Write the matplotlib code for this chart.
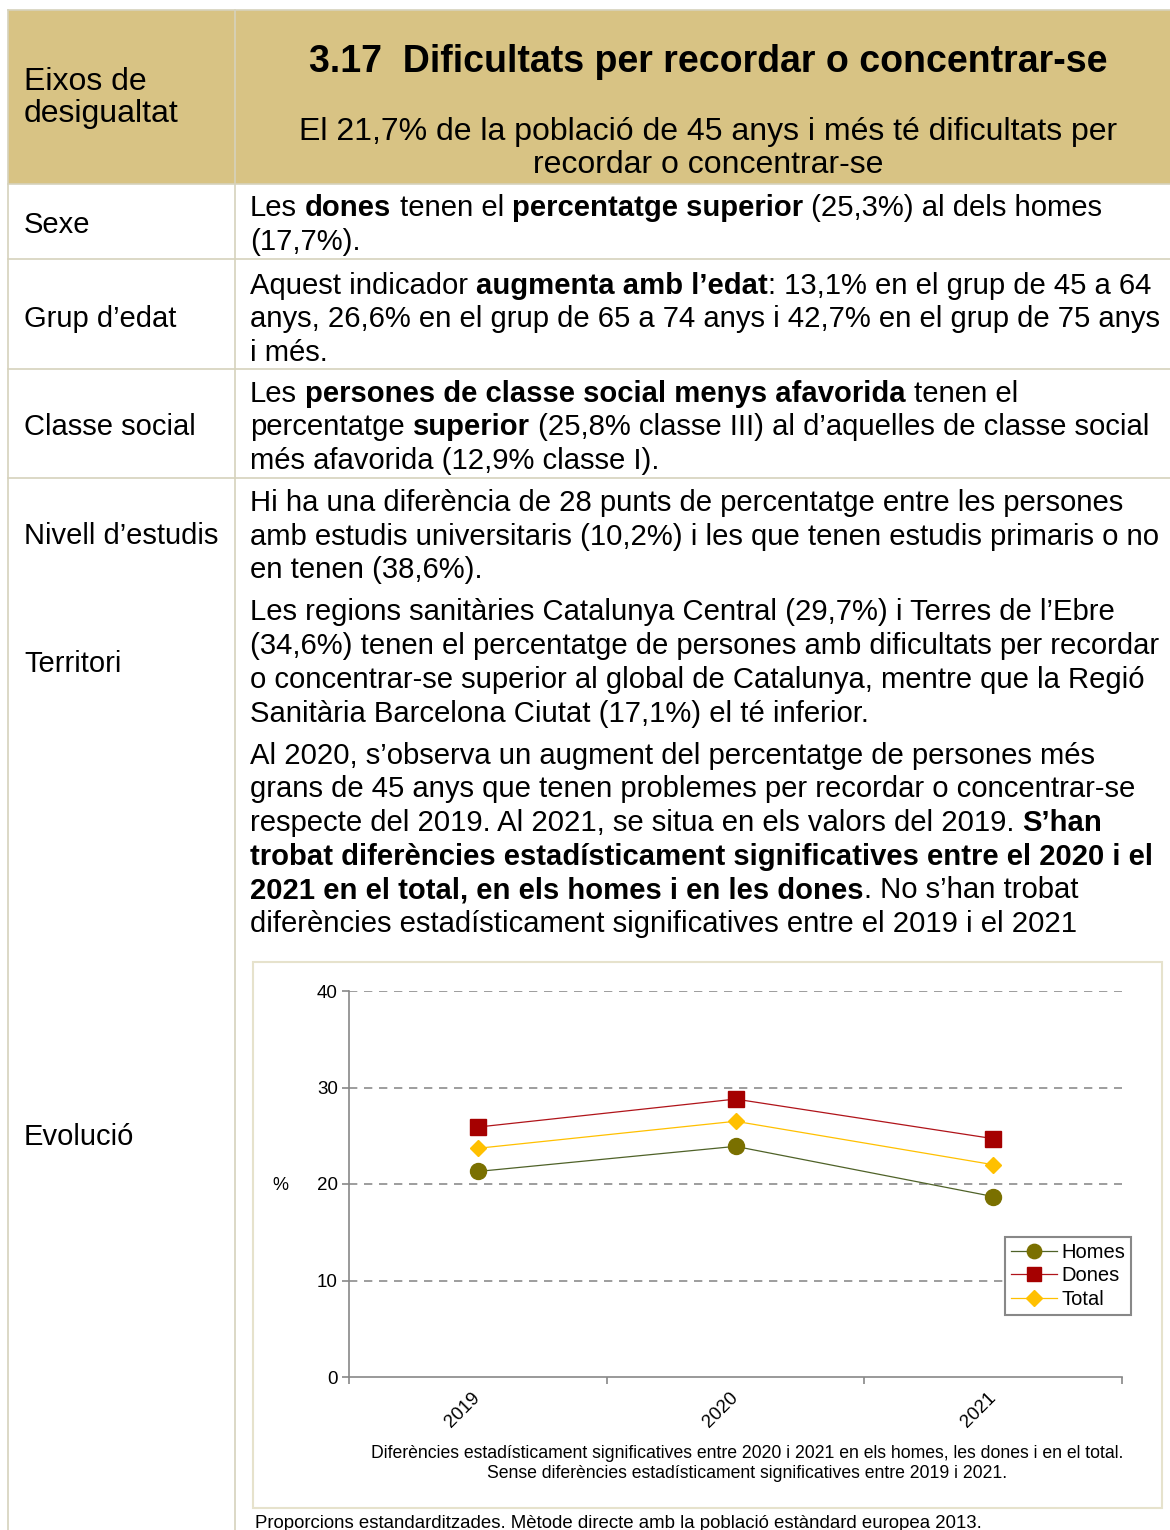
import matplotlib.pyplot as plt
from matplotlib.patches import Rectangle
from matplotlib.lines import Line2D

plt.rcParams['font.family'] = ['Liberation Sans', 'DejaVu Sans']

# ---- data ----
years = ['2019', '2020', '2021']
homes = [21.3, 23.9, 18.7]
dones = [25.9, 28.8, 24.7]
total = [23.7, 26.5, 22.0]
series_names = ['Homes', 'Dones', 'Total']

title = '3.17  Dificultats per recordar o concentrar-se'
subtitle = ['El 21,7% de la població de 45 anys i més té dificultats per',
            'recordar o concentrar-se']
row_labels = ['Sexe', 'Grup d’edat', 'Classe social', 'Nivell d’estudis',
              'Territori', 'Evolució']

rows_text = [
    [[('Les ', 0), ('dones', 1), (' tenen el ', 0), ('percentatge superior', 1),
      (' (25,3%) al dels homes', 0)],
     [('(17,7%).', 0)]],
    [[('Aquest indicador ', 0), ('augmenta amb l’edat', 1),
      (': 13,1% en el grup de 45 a 64', 0)],
     [('anys, 26,6% en el grup de 65 a 74 anys i 42,7% en el grup de 75 anys', 0)],
     [('i més.', 0)]],
    [[('Les ', 0), ('persones de classe social menys afavorida', 1), (' tenen el', 0)],
     [('percentatge ', 0), ('superior', 1),
      (' (25,8% classe III) al d’aquelles de classe social', 0)],
     [('més afavorida (12,9% classe I).', 0)]],
    [[('Hi ha una diferència de 28 punts de percentatge entre les persones', 0)],
     [('amb estudis universitaris (10,2%) i les que tenen estudis primaris o no', 0)],
     [('en tenen (38,6%).', 0)]],
    [[('Les regions sanitàries Catalunya Central (29,7%) i Terres de l’Ebre', 0)],
     [('(34,6%) tenen el percentatge de persones amb dificultats per recordar', 0)],
     [('o concentrar-se superior al global de Catalunya, mentre que la Regió', 0)],
     [('Sanitària Barcelona Ciutat (17,1%) el té inferior.', 0)]],
    [[('Al 2020, s’observa un augment del percentatge de persones més', 0)],
     [('grans de 45 anys que tenen problemes per recordar o concentrar-se', 0)],
     [('respecte del 2019. Al 2021, se situa en els valors del 2019. ', 0), ('S’han', 1)],
     [('trobat diferències estadísticament significatives entre el 2020 i el', 1)],
     [('2021 en el total, en els homes i en les dones', 1), ('. No s’han trobat', 0)],
     [('diferències estadísticament significatives entre el 2019 i el 2021', 0)]],
]

note = ['Diferències estadísticament significatives entre 2020 i 2021 en els homes, les dones i en el total.',
        'Sense diferències estadísticament significatives entre 2019 i 2021.']
footer = 'Proporcions estandarditzades. Mètode directe amb la població estàndard europea 2013.'

# ---- layout (pixels) ----
W, H = 1170, 1530
fig = plt.figure(figsize=(W / 100, H / 100), dpi=100)
r = fig.canvas.get_renderer()


def fx(x):
    return x / W


def fy(y):
    return 1 - y / H


border = '#D6D2BC'
fig.patches.append(Rectangle((fx(8), fy(184)), fx(1170) - fx(8), fy(10) - fy(184),
                             transform=fig.transFigure, facecolor='#D8C384',
                             edgecolor='none', zorder=-2))
for yy in [10, 184, 259, 369, 478]:
    fig.add_artist(Line2D([fx(8), fx(1170)], [fy(yy), fy(yy)], color=border, lw=1.2, zorder=-1))
for xx in [8, 235]:
    fig.add_artist(Line2D([fx(xx), fx(xx)], [fy(10), fy(1530)], color=border, lw=1.2, zorder=-1))


def text_w(s, size, weight):
    t = fig.text(0, 0, s, fontsize=size, fontweight=weight)
    w = t.get_window_extent(renderer=r).width
    t.remove()
    return w


def rich(x, y, parts, size=21.1):
    for txt, b in parts:
        wt = 'bold' if b else 'normal'
        sp = text_w('a a', size, wt) - text_w('aa', size, wt)
        lead = len(txt) - len(txt.lstrip(' '))
        trail = len(txt) - len(txt.rstrip(' '))
        x += lead * sp
        core = txt.strip(' ')
        t = fig.text(fx(x), fy(y), core, fontsize=size, fontweight=wt,
                     ha='left', va='baseline')
        x += t.get_window_extent(renderer=r).width + trail * sp


# header
fig.text(fx(24), fy(90), 'Eixos de', fontsize=23, va='baseline')
fig.text(fx(24), fy(122), 'desigualtat', fontsize=23, va='baseline')
fig.text(fx(708), fy(72), title, fontsize=27, fontweight='bold', ha='center', va='baseline')
fig.text(fx(708), fy(140), subtitle[0], fontsize=23, ha='center', va='baseline')
fig.text(fx(708), fy(173), subtitle[1], fontsize=23, ha='center', va='baseline')

label_base = [233, 327, 435, 544, 671.5, 1145]
first_base = [216.5, 293.5, 401.5, 511, 620.5, 763.5]
step = 33.7
for lab, lb, fb, lines in zip(row_labels, label_base, first_base, rows_text):
    fig.text(fx(24), fy(lb), lab, fontsize=21, va='baseline')
    for i, parts in enumerate(lines):
        rich(250, fb + i * step, parts)

# chart frame
fig.patches.append(Rectangle((fx(253), fy(1508)), fx(1162) - fx(253), fy(962) - fy(1508),
                             transform=fig.transFigure, facecolor='white',
                             edgecolor='#E6E2CC', lw=1.5, zorder=-1))

ax = fig.add_axes([fx(349), fy(1377), fx(1122) - fx(349), fy(991) - fy(1377)], zorder=2)
x = list(range(len(years)))
ax.plot(x, homes, color='#4F6228', lw=0.9, marker='o', ms=11.5,
        mfc='#7A7000', mec='#7A7000', label=series_names[0], zorder=3)
ax.plot(x, dones, color='#B0141A', lw=0.9, marker='s', ms=11,
        mfc='#A50000', mec='#A50000', label=series_names[1], zorder=3)
ax.plot(x, total, color='#FFC000', lw=0.9, marker='D', ms=8.5,
        mfc='#FFC000', mec='#FFC000', label=series_names[2], zorder=3)

ax.set_xlim(-0.5, 2.5)
ax.set_ylim(0, 40)
ax.set_yticks([0, 10, 20, 30, 40])
ax.set_xticks(x)
ax.set_xticks([-0.5, 0.5, 1.5, 2.5], minor=True)
ax.set_xticklabels(years, rotation=45, ha='right', va='center', rotation_mode='anchor')
ax.tick_params(axis='x', which='major', length=0, pad=13, labelsize=13.5)
ax.tick_params(axis='x', which='minor', length=5, color='#888888', width=1.2)
ax.tick_params(axis='y', length=5, color='#888888', width=1.2, labelsize=13.5, pad=3)
for s in ['top', 'right']:
    ax.spines[s].set_visible(False)
for s in ['left', 'bottom']:
    ax.spines[s].set_color('#888888')
    ax.spines[s].set_linewidth(1.2)
for v in [10, 20, 30, 40]:
    ax.axhline(v, color='#8C8C8C', lw=1.2, ls=(0, (5, 4)), zorder=1)
ax.patch.set_alpha(0)

leg = ax.legend(loc='upper right', bbox_to_anchor=(1.0117, 0.3627), borderaxespad=0,
                fancybox=False, framealpha=1, edgecolor='#888888', fontsize=14.5,
                handlelength=2.3, labelspacing=0.22, borderpad=0.3, handletextpad=0.2,
                markerscale=0.9)
leg.get_frame().set_linewidth(1.5)

fig.text(fx(280), fy(1185), '%', fontsize=13, ha='center', va='center')
fig.text(fx(747), fy(1453), note[0], fontsize=12.7, ha='center', va='center')
fig.text(fx(747), fy(1473), note[1], fontsize=12.7, ha='center', va='center')
fig.text(fx(255), fy(1528), footer, fontsize=13.4, ha='left', va='baseline')

fig.savefig('out.png', dpi=100)
